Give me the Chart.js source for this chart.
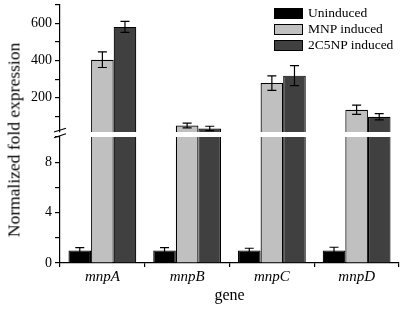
<!DOCTYPE html>
<html>
<head>
<meta charset="utf-8">
<script src="https://cdn.jsdelivr.net/npm/chart.js@4/dist/chart.umd.min.js"></script>
<style>
    html, body { margin: 0; padding: 0; background: #fff; }
    #wrap { position: relative; width: 402px; height: 309px; font-family: "Liberation Serif", serif; color: #000; }
    #upper { position: absolute; left: 0; top: 0; width: 402px; height: 133px; }
    #lower { position: absolute; left: 0; top: 120px; width: 402px; height: 189px; }
    #ytitle { position: absolute; left: 14px; top: 140px; transform: translate(-50%, -50%) rotate(-90deg); white-space: nowrap; font-size: 17.5px; }
    #legend { position: absolute; left: 274px; top: 5px; font-size: 13.5px; }
    .row { display: flex; align-items: center; height: 16px; }
    .sw { width: 29px; height: 11px; border: 1px solid #000; box-sizing: border-box; margin-right: 5px; }
</style>
</head>
<body>
<div id="wrap">
    <div id="upper"><canvas id="c1"></canvas></div>
    <div id="lower"><canvas id="c2"></canvas></div>
    <div id="ytitle">Normalized fold expression</div>
    <div id="legend"></div>
</div>
<script>
(function () {
    "use strict";

    const genes = ["mnpA", "mnpB", "mnpC", "mnpD"];
    const seriesNames = ["Uninduced", "MNP induced", "2C5NP induced"];
    const uninduced = [1.0, 1.0, 1.0, 1.0];
    const uninducedErr = [0.22, 0.22, 0.17, 0.25];
    const mnpInduced = [405, 50, 279, 135];
    const mnpInducedErr = [42, 13, 39, 25];
    const c5Induced = [582, 34, 319, 97];
    const c5InducedErr = [30, 12, 54, 17];
    const colors = ["#000000", "#c0c0c0", "#404040"];

    const font = "'Liberation Serif', 'Times New Roman', serif";

    // legend
    const legendEl = document.getElementById("legend");
    seriesNames.forEach((name, i) => {
        const row = document.createElement("div");
        row.className = "row";
        row.innerHTML = '<div class="sw" style="background:' + colors[i] + '"></div><span>' + name + "</span>";
        legendEl.appendChild(row);
    });

    const makeDatasets = () => [
        { label: seriesNames[0], data: uninduced, errors: uninducedErr, backgroundColor: colors[0] },
        { label: seriesNames[1], data: mnpInduced, errors: mnpInducedErr, backgroundColor: colors[1] },
        { label: seriesNames[2], data: c5Induced, errors: c5InducedErr, backgroundColor: colors[2] },
    ].map((d) => Object.assign(d, {
        borderColor: "#000",
        borderWidth: 1.2,
        categoryPercentage: 0.8,
        barPercentage: 1.0,
    }));

    // error bars
    const errorBars = {
        id: "errorBars",
        afterDatasetsDraw(chart) {
            const ctx = chart.ctx;
            const ys = chart.scales.y;
            ctx.save();
            ctx.strokeStyle = "#000";
            ctx.lineWidth = 1.2;
            chart.data.datasets.forEach((ds, di) => {
                const meta = chart.getDatasetMeta(di);
                meta.data.forEach((bar, i) => {
                    const v = ds.data[i];
                    const e = ds.errors[i];
                    if (v < ys.min || v > ys.max) return;
                    const top = ys.getPixelForValue(v + e);
                    const bot = ys.getPixelForValue(v - e);
                    const x = bar.x;
                    ctx.beginPath();
                    ctx.moveTo(x, top);
                    ctx.lineTo(x, bot);
                    ctx.moveTo(x - 4.5, top);
                    ctx.lineTo(x + 4.5, top);
                    ctx.moveTo(x - 4.5, bot);
                    ctx.lineTo(x + 4.5, bot);
                    ctx.stroke();
                });
            });
            ctx.restore();
        },
    };

    // axis break marks
    const breakMarks = {
        id: "breakMarks",
        afterDraw(chart) {
            const ctx = chart.ctx;
            const x = chart.chartArea.left;
            const t = chart.chartArea.top;
            ctx.save();
            ctx.strokeStyle = "#000";
            ctx.lineWidth = 1.2;
            ctx.beginPath();
            ctx.moveTo(x - 6, t - 5);
            ctx.lineTo(x + 6, t - 8.7);
            ctx.moveTo(x - 6, t + 0.7);
            ctx.lineTo(x + 6, t - 3.3);
            ctx.stroke();
            ctx.restore();
        },
    };

    const yAxis = (min, max, labelEvery) => ({
        min: min,
        max: max,
        afterBuildTicks: (s) => {
            s.ticks = s.ticks.filter((t) => t.value % (labelEvery / 2) === 0);
        },
        afterFit: (s) => {
            s.width = 60;
            s.paddingTop = 0;
            s.paddingBottom = 0;
        },
        ticks: {
            stepSize: labelEvery / 2,
            autoSkip: false,
            color: "#000",
            padding: 3,
            font: { family: font, size: 14 },
            callback: (v) => (v % labelEvery === 0 ? v : ""),
        },
        grid: { drawOnChartArea: false, tickLength: 5, color: "#000", lineWidth: 1.2 },
        border: { color: "#000", width: 1.2 },
    });

    new Chart(document.getElementById("c1"), {
        type: "bar",
        data: { labels: genes, datasets: makeDatasets() },
        options: {
            responsive: true,
            maintainAspectRatio: false,
            animation: false,
            layout: { padding: { top: 5, bottom: 1, right: 3, left: 0 } },
            plugins: { legend: { display: false }, tooltip: { enabled: false } },
            scales: {
                x: { display: false, offset: true },
                y: yAxis(15, 700, 200),
            },
        },
        plugins: [errorBars],
    });

    new Chart(document.getElementById("c2"), {
        type: "bar",
        data: { labels: genes, datasets: makeDatasets() },
        options: {
            responsive: true,
            maintainAspectRatio: false,
            animation: false,
            layout: { padding: { top: 17, bottom: 0, right: 3, left: 0 } },
            plugins: { legend: { display: false }, tooltip: { enabled: false } },
            scales: {
                x: {
                    offset: true,
                    afterFit: (s) => { s.height = 46; },
                    ticks: {
                        color: "#000",
                        padding: 1,
                        font: { family: font, size: 15, style: "italic" },
                    },
                    grid: { offset: true, drawOnChartArea: false, tickLength: 4, color: "#000", lineWidth: 1.2 },
                    border: { color: "#000", width: 1.2 },
                    title: {
                        display: true,
                        text: "gene",
                        color: "#000",
                        padding: { top: 0, bottom: 4 },
                        font: { family: font, size: 16 },
                    },
                },
                y: yAxis(0, 10, 4),
            },
        },
        plugins: [errorBars, breakMarks],
    });
})();
</script>
</body>
</html>
